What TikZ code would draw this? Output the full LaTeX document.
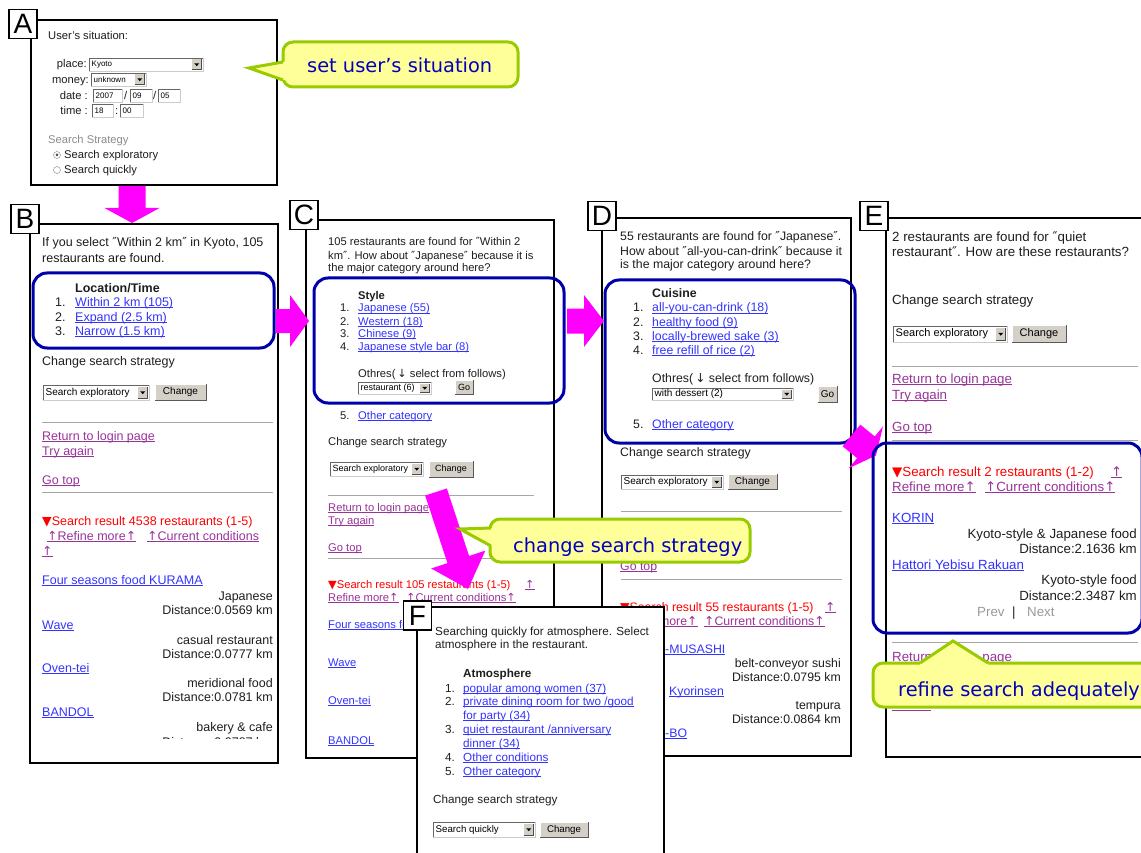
\documentclass[tikz,border=0pt]{standalone}
\usepackage{fontspec}
\setmainfont{Liberation Sans}
\newfontfamily\dv{DejaVu Sans}
\usetikzlibrary{calc}
\definecolor{lnk}{RGB}{51,51,255}
\definecolor{vis}{RGB}{153,51,153}
\definecolor{rd}{RGB}{255,0,0}
\definecolor{frm}{RGB}{0,0,170}
\definecolor{mg}{RGB}{255,0,255}
\definecolor{cofill}{RGB}{255,255,153}
\definecolor{coline}{RGB}{153,204,0}
\definecolor{cotext}{RGB}{0,0,190}
\definecolor{btn}{RGB}{212,208,200}
\definecolor{txt}{RGB}{30,30,30}
\newcounter{nc}
\newsavebox\ulbox
\newcommand\ulx[1]{\sbox\ulbox{#1}\rlap{\rule[-1.8pt]{\wd\ulbox}{0.6pt}}\usebox\ulbox}
\newcommand\lk[1]{\textcolor{lnk}{\ulx{#1}}}
\newcommand\vl[1]{\textcolor{vis}{\ulx{#1}}}
\newcommand\ua{{\dv\char"2191}}
\newcommand\da{{\dv\char"2193}}
\newcommand\tri{{\dv\char"25BC}}
\newcommand\qq{{\dv\char"2033}}
\def\pf{\fontsize{11}{13}\selectfont}
\def\sfnt{\fontsize{9}{10}\selectfont}
\tikzset{
  nm/.style={/utils/exec={\stepcounter{nc}}, name/.expanded={n\arabic{nc}}},
  t/.style={nm, anchor=base west, inner sep=0pt, yshift=-4pt, font=\pf, text=txt},
  tr/.style={t, anchor=base east},
  tb/.style={t, font=\pf\bfseries},
  st/.style={nm, anchor=west, inner sep=0pt, font=\sfnt, text=black},
  bt/.style={nm, inner sep=0pt, font=\sfnt, text=black},
  frame/.style={draw=black, line width=1.1pt, fill=white},
  lab/.style={draw=black, line width=1.1pt, fill=white, minimum width=28pt, minimum height=29pt, inner sep=0pt, font=\fontsize{28}{28}\selectfont},
  hr/.style={draw=black!35, line width=1pt},
  blu/.style={draw=frm, line width=3pt, rounded corners=14pt},
  co/.style={draw=coline, fill=cofill, line width=3pt, rounded corners=10pt},
  coedge/.style={draw=coline, line width=3pt, line join=miter},
  cot/.style={nm, anchor=base west, inner sep=0pt, font=\dv\fontsize{19.4}{20}\selectfont, text=cotext},
}
\newcommand\tbox[5]{%
  \fill[white] (#1,#2) rectangle (#3,#4);
  \draw[black!60] (#1,#4) -- (#1,#2) -- (#3,#2);
  \draw[black!20] (#3,#2) -- (#3,#4) -- (#1,#4);
  \node[st] at ({#1+2.5},{(#2+#4)/2}) {#5};
}
\newcommand\sel[5]{%
  \tbox{#1}{#2}{#3}{#4}{#5}
  \fill[btn] ({#3-11},{#2+1.5}) rectangle ({#3-1.5},{#4-1.5});
  \draw[black!70] ({#3-11},{#4-1.5}) -- ({#3-1.5},{#4-1.5}) -- ({#3-1.5},{#2+1.5});
  \fill[black] ({#3-8.8},{(#2+#4)/2-1.2}) -- ({#3-3.7},{(#2+#4)/2-1.2}) -- ({#3-6.25},{(#2+#4)/2+1.6}) -- cycle;
}
\newcommand\btn[5]{%
  \fill[btn] (#1,#2) rectangle (#3,#4);
  \draw[white] (#1,#4) -- (#1,#2) -- (#3,#2);
  \draw[black!65] (#3,#2) -- (#3,#4) -- (#1,#4);
  \node[bt] at ({(#1+#3)/2},{(#2+#4)/2}) {#5};
}
\newcommand\barrow[6]{%
  \coordinate (#1s) at (#2);
  \coordinate (#1t) at (#3);
  \coordinate (#1h) at ($(#1t)!#6!(#1s)$);
  \fill[mg] ($(#1s)!#4!90:(#1t)$) -- ($(#1h)!#4!90:(#1t)$) -- ($(#1h)!#5!90:(#1t)$) -- (#1t)
    -- ($(#1h)!#5!-90:(#1t)$) -- ($(#1h)!#4!-90:(#1t)$) -- ($(#1s)!#4!-90:(#1t)$) -- cycle;
}
\begin{document}
\begin{tikzpicture}[x=1pt,y=-1pt]
\useasboundingbox (0,0) rectangle (1141,853);
\fill[white] (0,0) rectangle (1141,853);

% ---------------- Panel A
\begin{scope}
\def\pf{\fontsize{11.2}{13}\selectfont}\def\sfnt{\fontsize{8}{9}\selectfont}
\draw[frame] (31,20) rectangle (277,185);
\node[t] at (48,36) {User's situation:};
\node[tr] at (87,64) {place:};
\sel{89}{58}{203}{71}{Kyoto}
\node[tr] at (89,80) {money:};
\sel{91}{73}{146}{86}{unknown}
\node[tr] at (88,96) {date :};
\tbox{93}{89}{122}{102}{2007}
\node[t] at (124,96) {/};
\tbox{130}{89}{152}{102}{09}
\node[t] at (153,96) {/};
\tbox{158}{89}{180}{102}{05}
\node[tr] at (88,111) {time :};
\tbox{92}{104}{113}{117}{18}
\node[t] at (115,111) {:};
\tbox{120}{104}{143}{117}{00}
\node[t,text=black!45] at (48,140) {Search Strategy};
\draw[black!50,fill=white] (57,155) circle (3.5pt);
\fill[black!70] (57,155) circle (1.5pt);
\node[t] at (64,155) {Search exploratory};
\draw[black!50,fill=white] (57,170) circle (3.5pt);
\node[t] at (64,170) {Search quickly};
\node[lab] (labA) at (23,24) {A};
\end{scope}

% ---------------- Panel B
\begin{scope}
\def\pf{\fontsize{12.5}{15}\selectfont}\def\sfnt{\fontsize{10}{11}\selectfont}
\draw[frame] (30,224) rectangle (278,763);
\node[t] at (42,243) {If you select \qq Within 2 km\qq\ in Kyoto, 105};
\node[t] at (42,258) {restaurants are found.};
\node[tb] at (75,288) {Location/Time};
\node[t] at (55,302) {1.}; \node[t] at (75,302) {\lk{Within 2 km (105)}};
\node[t] at (55,317) {2.}; \node[t] at (75,317) {\lk{Expand (2.5 km)}};
\node[t] at (55,331) {3.}; \node[t] at (75,331) {\lk{Narrow (1.5 km)}};
\node[t] at (42,361) {Change search strategy};
\sel{43}{385}{149}{400}{Search exploratory}
\btn{155}{384}{206}{400}{Change}
\draw[hr] (42,422) -- (273,422);
\node[t] at (42,436) {\vl{Return to login page}};
\node[t] at (42,451) {\vl{Try again}};
\node[t] at (42,480) {\vl{Go top}};
\draw[hr] (42,492) -- (273,492);
\node[t] at (42,521) {\textcolor{rd}{\tri Search result 4538 restaurants (1-5)}};
\node[t] at (47,536) {\vl{\ua Refine more\ua}};
\node[t] at (147,536) {\vl{\ua Current conditions}};
\node[t] at (42,551) {\vl{\ua}};
\node[t] at (42,580) {\lk{Four seasons food KURAMA}};
\node[tr] at (273,596) {Japanese};
\node[tr] at (273,610) {Distance:0.0569 km};
\node[t] at (42,625) {\lk{Wave}};
\node[tr] at (273,640) {casual restaurant};
\node[tr] at (273,654) {Distance:0.0777 km};
\node[t] at (42,668) {\lk{Oven-tei}};
\node[tr] at (273,683) {meridional food};
\node[tr] at (273,697) {Distance:0.0781 km};
\node[t] at (42,712) {\lk{BANDOL}};
\node[tr] at (273,727) {bakery \& cafe};
\begin{scope}
\clip (40,732) rectangle (276,738);
\node[tr] at (273,742) {Distance:0.0787 km};
\end{scope}
\draw[blu] (33,273) rectangle (274,348);
\node[lab] (labB) at (25,219) {B};
\end{scope}

% ---------------- Panel C
\begin{scope}
\def\pf{\fontsize{11.2}{13}\selectfont}\def\sfnt{\fontsize{9}{10}\selectfont}
\draw[frame] (306,220) rectangle (554,758);
\node[t] at (328,242) {105 restaurants are found for \qq Within 2};
\node[t] at (328,256) {km\qq. How about \qq Japanese\qq\ because it is};
\node[t] at (328,268) {the major category around here?};
\node[tb] at (358,295) {Style};
\node[t] at (340,308) {1.}; \node[t] at (358,308) {\lk{Japanese (55)}};
\node[t] at (340,321) {2.}; \node[t] at (358,321) {\lk{Western (18)}};
\node[t] at (340,333) {3.}; \node[t] at (358,333) {\lk{Chinese (9)}};
\node[t] at (340,346) {4.}; \node[t] at (358,346) {\lk{Japanese style bar (8)}};
\node[t] at (358,373) {Othres(\,\da\ select from follows)};
\sel{358}{382}{431}{394}{restaurant (6)}
\btn{455}{380}{473}{394}{Go}
\draw[blu] (314,278) rectangle (564,403);
\node[t] at (340,415) {5.}; \node[t] at (358,415) {\lk{Other category}};
\node[t] at (328,441) {Change search strategy};
\sel{330}{462}{423}{476}{Search exploratory}
\btn{429}{461}{473}{477}{Change}
\draw[hr] (328,495) -- (534,495);
\node[t] at (328,507) {\vl{Return to login page}};
\node[t] at (328,520) {\vl{Try again}};
\node[t] at (328,547) {\vl{Go top}};
\draw[hr] (328,558) -- (534,558);
\node[t] at (328,584) {\textcolor{rd}{\tri Search result 105 restaurants (1-5)}};
\node[t] at (525,584) {\vl{\ua}};
\node[t] at (328,597) {\vl{Refine more\ua}};
\node[t] at (406,597) {\vl{\ua Current conditions\ua}};
\node[t] at (328,624) {\lk{Four seasons fo}};
\node[t] at (328,662) {\lk{Wave}};
\node[t] at (328,700) {\lk{Oven-tei}};
\node[t] at (328,740) {\lk{BANDOL}};
\node[lab] (labC) at (304,215) {C};
\end{scope}

% ---------------- Panel D
\begin{scope}
\def\pf{\fontsize{12.3}{14}\selectfont}\def\sfnt{\fontsize{10}{11}\selectfont}
\draw[frame] (602,218) rectangle (851,756);
\node[t] at (620,237) {55 restaurants are found for \qq Japanese\qq.};
\node[t] at (620,251) {How about \qq all-you-can-drink\qq\ because it};
\node[t] at (620,265) {is the major category around here?};
\node[tb] at (652,294) {Cuisine};
\node[t] at (633,308) {1.}; \node[t] at (652,308) {\lk{all-you-can-drink (18)}};
\node[t] at (633,322) {2.}; \node[t] at (652,322) {\lk{healthy food (9)}};
\node[t] at (633,336) {3.}; \node[t] at (652,336) {\lk{locally-brewed sake (3)}};
\node[t] at (633,350) {4.}; \node[t] at (652,350) {\lk{free refill of rice (2)}};
\node[t] at (652,378) {Othres(\,\da\ select from follows)};
\sel{652}{388}{793}{400}{with dessert (2)}
\btn{818}{386}{837}{402}{Go}
\node[t] at (633,424) {5.}; \node[t] at (652,424) {\lk{Other category}};
\draw[blu] (605,280) rectangle (855,443);
\node[t] at (620,452) {Change search strategy};
\sel{621}{475}{723}{489}{Search exploratory}
\btn{728}{474}{777}{489}{Change}
\draw[hr] (621,511) -- (842,511);
\node[t] at (620,566) {\vl{Go top}};
\draw[hr] (621,579) -- (842,579);
\node[t] at (620,607) {\textcolor{rd}{\tri Search result 55 restaurants (1-5)}};
\node[t] at (825,607) {\vl{\ua}};
\node[t] at (620,621) {\vl{Refine more\ua}};
\node[t] at (704,621) {\vl{\ua Current conditions\ua}};
\node[t] at (665,649) {\lk{-MUSASHI}};
\node[tr] at (841,663) {belt-conveyor sushi};
\node[tr] at (841,677) {Distance:0.0795 km};
\node[t] at (669,691) {\lk{Kyorinsen}};
\node[tr] at (841,705) {tempura};
\node[tr] at (841,719) {Distance:0.0864 km};
\node[t] at (665,733) {\lk{-BO}};
\node[lab] (labD) at (602,216) {D};
\end{scope}

% ---------------- arrows between panels
\barrow{ab}{132,186}{132,223}{13.5pt}{27.5pt}{15pt}
\barrow{bc}{276,321}{309,321}{12pt}{26pt}{19pt}
\barrow{cd}{567,321}{604,321}{12.5pt}{26pt}{20pt}
\barrow{de}{851.5,435.5}{876,455.5}{14pt}{27pt}{13pt}

% ---------------- Panel E
\begin{scope}
\def\pf{\fontsize{13.3}{16}\selectfont}\def\sfnt{\fontsize{11}{12}\selectfont}
\draw[frame] (886,218) rectangle (1160,757);
\node[t] at (892,238) {2 restaurants are found for \qq quiet};
\node[t] at (892,253) {restaurant\qq. How are these restaurants?};
\node[t] at (892,300) {Change search strategy};
\sel{893}{326}{1007}{342}{Search exploratory}
\btn{1012}{325}{1066}{342}{Change}
\draw[hr] (892,366) -- (1138,366);
\node[t] at (892,379) {\vl{Return to login page}};
\node[t] at (892,395) {\vl{Try again}};
\node[t] at (892,427) {\vl{Go top}};
\draw[hr] (892,440) -- (1138,440);
\node[t] at (892,472) {\textcolor{rd}{\tri Search result 2 restaurants (1-2)}};
\node[t] at (1111,472) {\vl{\ua}};
\node[t] at (892,487) {\vl{Refine more\ua}};
\node[t] at (985,487) {\vl{\ua Current conditions\ua}};
\node[t] at (892,518) {\lk{KORIN}};
\node[tr] at (1137,534) {Kyoto-style \& Japanese food};
\node[tr] at (1137,549) {Distance:2.1636 km};
\node[t] at (892,565) {\lk{Hattori Yebisu Rakuan}};
\node[tr] at (1137,580) {Kyoto-style food};
\node[tr] at (1137,596) {Distance:2.3487 km};
\node[t,text=black!40] at (977,612) {Prev};
\node[t] at (1012,612) {|};
\node[t,text=black!40] at (1027,612) {Next};
\draw[hr] (892,642) -- (1138,642);
\node[t] at (892,657) {\vl{Return to login page}};
\draw[vis, line width=0.6pt] (892,710.5) -- (931,710.5);
\draw[blu] (873,443) rectangle (1142,633);
\node[lab] (labE) at (874,216) {E};
\end{scope}

% ---------------- arrow C -> F and callout
\barrow{cf}{436,492}{468,589}{11.4pt}{28.5pt}{31pt}

\draw[co] (490,519) rectangle (750,562);
\fill[cofill] (460,529) -- (491,528) -- (495,528) -- (495,546) -- (491,546) -- cycle;
\draw[coedge] (491,528) -- (460,529) -- (491,546);
\node[cot] (coC) at (513,552) {change search strategy};

% ---------------- callout A
\draw[co] (283,42) rectangle (518,87);
\fill[cofill] (249,68) -- (283,62) -- (287,62) -- (287,80) -- (283,80) -- cycle;
\draw[coedge] (283,62) -- (249,68) -- (283,80);
\node[cot] (coA) at (307,73) {set user’s situation};

% ---------------- Panel F
\begin{scope}
\def\pf{\fontsize{11.7}{14}\selectfont}\def\sfnt{\fontsize{9.7}{11}\selectfont}
\draw[frame] (417,607) rectangle (664,880);
\node[t] at (435,631) {Searching quickly for atmosphere. Select};
\node[t] at (435,644) {atmosphere in the restaurant.};
\node[tb] at (463,673) {Atmosphere};
\node[t] at (445,688) {1.}; \node[t] at (463,688) {\lk{popular among women (37)}};
\node[t] at (445,701) {2.}; \node[t] at (463,701) {\lk{private dining room for two /good}};
\node[t] at (463,715) {\lk{for party (34)}};
\node[t] at (445,729) {3.}; \node[t] at (463,729) {\lk{quiet restaurant /anniversary}};
\node[t] at (463,743) {\lk{dinner (34)}};
\node[t] at (445,757) {4.}; \node[t] at (463,757) {\lk{Other conditions}};
\node[t] at (445,771) {5.}; \node[t] at (463,771) {\lk{Other category}};
\node[t] at (433,799) {Change search strategy};
\sel{433}{822}{535}{837}{Search quickly}
\btn{540}{822}{588}{837}{Change}
\node[lab] (labF) at (417.5,615.5) {F};
\end{scope}

% ---------------- callout E
\draw[co] (873,663) rectangle (1160,707);
\fill[cofill] (953,641) -- (920,663) -- (920,667) -- (988,667) -- (988,663) -- cycle;
\draw[coedge] (920,663) -- (953,641) -- (988,663);
\node[cot] (coE) at (898,696) {refine search adequately};
\end{tikzpicture}
\end{document}
